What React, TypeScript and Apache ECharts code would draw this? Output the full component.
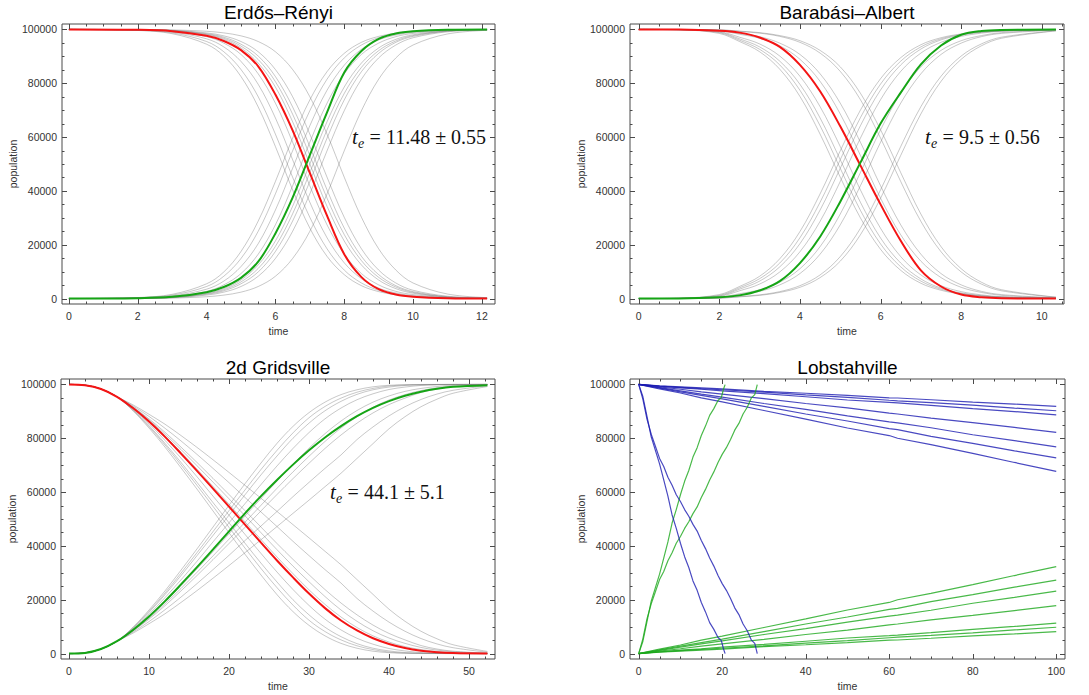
import React, { useEffect, useRef } from "react";
import * as echarts from "echarts";

// ---------------- tick labels ----------------
const populationTicks = [0, 20000, 40000, 60000, 80000, 100000];
const erTimeTicks = [0, 2, 4, 6, 8, 10, 12];
const baTimeTicks = [0, 2, 4, 6, 8, 10];
const gridTimeTicks = [0, 10, 20, 30, 40, 50];
const lobTimeTicks = [0, 20, 40, 60, 80, 100];

// ---------------- Erdős–Rényi ----------------
const erTime = [0, 2, 3, 4, 4.5, 5, 5.5, 6, 6.5, 7, 7.5, 8, 8.5, 9, 9.5, 10, 11, 12.15];
const erRed = [99990, 99850, 99350, 97600, 95700, 92300, 86300, 75800, 62500, 46700, 30800, 16500, 8000, 3500, 1500, 700, 150, 30];
const erGreen = [10, 150, 650, 2400, 4300, 7700, 13700, 24200, 37500, 53300, 69200, 84000, 92000, 96500, 98500, 99300, 99850, 99970];
const erRunS1 = [99970, 99600, 98400, 94500, 90100, 82500, 71200, 56500, 40400, 26200, 15700, 8900, 4800, 2600, 1400, 700, 200, 50];
const erRunS2 = [99970, 99650, 98700, 95500, 91700, 85100, 75000, 61100, 45100, 30200, 18500, 10600, 5800, 3100, 1700, 900, 250, 50];
const erRunS3 = [99980, 99700, 99000, 96500, 93500, 88100, 79600, 67100, 51600, 35800, 22600, 13300, 7400, 3900, 2100, 1100, 300, 50];
const erRunS4 = [99980, 99800, 99200, 97300, 94900, 90700, 83500, 72600, 58100, 41900, 27400, 16500, 9300, 5100, 2700, 1500, 400, 100];
const erRunS5 = [99990, 99850, 99450, 98000, 96300, 93100, 87500, 78600, 65700, 50000, 34300, 21400, 12500, 6900, 3700, 2000, 550, 100];
const erRunS6 = [99990, 99870, 99500, 98200, 96700, 93800, 88800, 80600, 68500, 53200, 37300, 23800, 14100, 7900, 4300, 2300, 600, 100];
const erRunS7 = [99990, 99880, 99600, 98400, 97100, 94500, 90100, 82500, 71200, 56500, 40400, 26200, 15700, 8900, 4800, 2600, 700, 150];
const erRunS8 = [99990, 99900, 99650, 98700, 97600, 95500, 91700, 85100, 75000, 61100, 45100, 30200, 18500, 10600, 5800, 3100, 900, 200];
const erRunS9 = [100000, 99950, 99800, 99300, 98700, 97600, 95500, 91700, 85100, 75000, 61100, 45100, 30200, 18500, 10600, 5800, 1700, 350];
const erRunI1 = [30, 400, 1600, 5500, 9900, 17500, 28800, 43500, 59600, 73800, 84300, 91100, 95200, 97400, 98600, 99300, 99800, 99950];
const erRunI2 = [30, 350, 1300, 4500, 8300, 14900, 25000, 38900, 54900, 69800, 81500, 89400, 94200, 96900, 98300, 99100, 99750, 99950];
const erRunI3 = [20, 300, 1000, 3500, 6500, 11900, 20400, 32900, 48400, 64200, 77400, 86700, 92600, 96100, 97900, 98900, 99700, 99950];
const erRunI4 = [20, 200, 800, 2700, 5100, 9300, 16500, 27400, 41900, 58100, 72600, 83500, 90700, 94900, 97300, 98500, 99600, 99900];
const erRunI5 = [10, 150, 550, 2000, 3700, 6900, 12500, 21400, 34300, 50000, 65700, 78600, 87500, 93100, 96300, 98000, 99450, 99900];
const erRunI6 = [10, 130, 500, 1800, 3300, 6200, 11200, 19400, 31500, 46800, 62700, 76200, 85900, 92100, 95700, 97700, 99400, 99900];
const erRunI7 = [10, 120, 400, 1600, 2900, 5500, 9900, 17500, 28800, 43500, 59600, 73800, 84300, 91100, 95200, 97400, 99300, 99850];
const erRunI8 = [10, 100, 350, 1300, 2400, 4500, 8300, 14900, 25000, 38900, 54900, 69800, 81500, 89400, 94200, 96900, 99100, 99800];
const erRunI9 = [0, 50, 200, 700, 1300, 2400, 4500, 8300, 14900, 25000, 38900, 54900, 69800, 81500, 89400, 94200, 98300, 99650];

// ---------------- Barabási–Albert ----------------
const baTime = [0, 1, 2, 2.5, 3, 3.5, 4, 4.5, 5, 5.5, 6, 6.5, 7, 7.5, 8, 8.5, 9, 10.35];
const baRed = [99990, 99950, 99500, 98800, 97000, 93500, 86800, 77000, 64000, 49500, 35000, 21500, 10500, 4500, 1500, 500, 150, 10];
const baGreen = [10, 50, 500, 1200, 3000, 6500, 13200, 23000, 36000, 50500, 65000, 76500, 87000, 94000, 98000, 99400, 99800, 99990];
const baRunS1 = [99990, 99850, 98500, 95500, 91700, 85200, 75100, 61100, 45100, 30000, 18300, 10500, 5700, 3100, 1700, 900, 500, 100];
const baRunS2 = [99990, 99870, 98800, 96000, 92600, 86800, 77400, 64200, 48400, 32800, 20300, 11800, 6500, 3500, 1900, 1000, 500, 100];
const baRunS3 = [99990, 99880, 99000, 96500, 93500, 88200, 79600, 67100, 51600, 35800, 22500, 13200, 7300, 3900, 2100, 1100, 600, 100];
const baRunS4 = [99990, 99900, 99200, 97100, 94600, 90100, 82600, 71300, 56500, 40400, 26100, 15600, 8800, 4800, 2600, 1400, 700, 100];
const baRunS5 = [99990, 99930, 99500, 98200, 96700, 93900, 88900, 80700, 68600, 53200, 37300, 23700, 13900, 7800, 4200, 2300, 1200, 200];
const baRunS6 = [99990, 99940, 99600, 98500, 97300, 94900, 90700, 83500, 72600, 58100, 41900, 27400, 16500, 9300, 5100, 2700, 1500, 250];
const baRunS7 = [99990, 99960, 99800, 99250, 98600, 97400, 95200, 91200, 84400, 73900, 59600, 43500, 28700, 17400, 9900, 5400, 2900, 500];
const baRunS8 = [99990, 99960, 99850, 99350, 98800, 97700, 95800, 92200, 86100, 76300, 62700, 46800, 31400, 19300, 11100, 6100, 3300, 550];
const baRunI1 = [10, 150, 1500, 4500, 8300, 14800, 24900, 38900, 54900, 70000, 81700, 89500, 94300, 96900, 98300, 99100, 99500, 99900];
const baRunI2 = [10, 130, 1200, 4000, 7400, 13200, 22600, 35800, 51600, 67200, 79700, 88200, 93500, 96500, 98100, 99000, 99500, 99900];
const baRunI3 = [10, 120, 1000, 3500, 6500, 11800, 20400, 32900, 48400, 64200, 77500, 86800, 92700, 96100, 97900, 98900, 99400, 99900];
const baRunI4 = [10, 100, 800, 2900, 5400, 9900, 17400, 28700, 43500, 59600, 73900, 84400, 91200, 95200, 97400, 98600, 99300, 99900];
const baRunI5 = [10, 70, 500, 1800, 3300, 6100, 11100, 19300, 31400, 46800, 62700, 76300, 86100, 92200, 95800, 97700, 98800, 99800];
const baRunI6 = [10, 60, 400, 1500, 2700, 5100, 9300, 16500, 27400, 41900, 58100, 72600, 83500, 90700, 94900, 97300, 98500, 99750];
const baRunI7 = [10, 40, 200, 750, 1400, 2600, 4800, 8800, 15600, 26100, 40400, 56500, 71300, 82600, 90100, 94600, 97100, 99500];
const baRunI8 = [10, 40, 150, 650, 1200, 2300, 4200, 7800, 13900, 23700, 37300, 53200, 68600, 80700, 88900, 93900, 96700, 99450];

// ---------------- 2d Gridsville ----------------
const gvTime = [0, 2, 4, 6, 8, 10, 12, 14, 16, 18, 20, 22, 24, 26, 28, 30, 32, 34, 36, 38, 40, 42, 44, 46, 48, 52.3];
const gvRed = [99990, 99700, 98300, 95400, 91200, 86200, 80500, 74300, 67900, 61300, 54600, 47900, 41200, 34600, 28300, 22300, 16900, 12300, 8600, 5700, 3600, 2100, 1100, 500, 200, 30];
const gvGreen = [10, 250, 1700, 4600, 8800, 13800, 19500, 25700, 32100, 38700, 45400, 52100, 58500, 64500, 70200, 75500, 80300, 84500, 88200, 91300, 93800, 95800, 97300, 98400, 99100, 99700];
const gvRunS1 = [99990, 99700, 98300, 95400, 90200, 83800, 76700, 69000, 61100, 53000, 44900, 36900, 29200, 21900, 15600, 10500, 6600, 3800, 2000, 900, 340, 140, 40, 20, 10, 0];
const gvRunS2 = [99990, 99700, 98300, 95400, 90400, 84300, 77500, 70100, 62500, 54700, 46900, 39200, 31600, 24500, 18000, 12400, 8200, 5100, 2900, 1500, 600, 200, 120, 50, 20, 0];
const gvRunS3 = [99990, 99700, 98300, 95400, 90600, 84700, 78100, 71000, 63600, 56100, 48600, 41000, 33600, 26600, 20000, 14400, 9800, 6300, 3700, 2000, 1000, 400, 160, 60, 30, 5];
const gvRunS4 = [99990, 99700, 98300, 95400, 90900, 85400, 79200, 72600, 65700, 58500, 51400, 44300, 37200, 30300, 23800, 17900, 12800, 8800, 5700, 3500, 1900, 1000, 400, 170, 70, 10];
const gvRunS5 = [99990, 99700, 98300, 95400, 91300, 86400, 80800, 74800, 68500, 62100, 55500, 48900, 42400, 35900, 29700, 23700, 18300, 13600, 9700, 6600, 4300, 2600, 1500, 800, 350, 60];
const gvRunS6 = [99990, 99700, 98300, 95400, 91500, 86800, 81500, 75800, 69800, 63700, 57500, 51200, 44900, 38600, 32500, 26700, 21200, 16200, 12000, 8500, 5800, 3800, 2300, 1300, 700, 80];
const gvRunS7 = [99990, 99700, 98300, 95400, 91600, 87200, 82200, 76700, 71000, 65100, 59100, 53100, 47000, 40900, 35000, 29300, 23800, 18800, 14400, 10600, 7500, 5100, 3000, 1700, 900, 150];
const gvRunS8 = [99990, 99700, 98300, 95400, 92000, 88100, 83700, 79000, 74000, 68800, 63500, 58000, 52600, 47200, 41700, 36400, 31200, 26200, 20500, 15800, 11700, 8300, 5600, 3600, 2200, 500];
const gvRunS9 = [99990, 99700, 98300, 95400, 92400, 88900, 85200, 81000, 76600, 72000, 67300, 62500, 57700, 52800, 47900, 43000, 38000, 33000, 27500, 22000, 16500, 12000, 8300, 5500, 3300, 800];
const gvRunI1 = [10, 300, 1700, 4600, 9800, 16200, 23300, 31000, 38900, 47000, 55100, 63100, 70800, 78100, 84400, 89500, 93400, 96200, 98000, 99100, 99660, 99860, 99960, 99980, 99990, 100000];
const gvRunI2 = [10, 300, 1700, 4600, 9600, 15700, 22500, 29900, 37500, 45300, 53100, 60800, 68400, 75500, 82000, 87600, 91800, 94900, 97100, 98500, 99400, 99800, 99880, 99950, 99980, 100000];
const gvRunI3 = [10, 300, 1700, 4600, 9400, 15300, 21900, 29000, 36400, 43900, 51400, 59000, 66400, 73400, 80000, 85600, 90200, 93700, 96300, 98000, 99000, 99600, 99840, 99940, 99970, 99995];
const gvRunI4 = [10, 300, 1700, 4600, 9100, 14600, 20800, 27400, 34300, 41500, 48600, 55700, 62800, 69700, 76200, 82100, 87200, 91200, 94300, 96500, 98100, 99000, 99600, 99830, 99930, 99990];
const gvRunI5 = [10, 300, 1700, 4600, 8700, 13600, 19200, 25200, 31500, 37900, 44500, 51100, 57600, 64100, 70300, 76300, 81700, 86400, 90300, 93400, 95700, 97400, 98500, 99200, 99650, 99940];
const gvRunI6 = [10, 300, 1700, 4600, 8500, 13200, 18500, 24200, 30200, 36300, 42500, 48800, 55100, 61400, 67500, 73300, 78800, 83800, 88000, 91500, 94200, 96200, 97700, 98700, 99300, 99920];
const gvRunI7 = [10, 300, 1700, 4600, 8400, 12800, 17800, 23300, 29000, 34900, 40900, 46900, 53000, 59100, 65000, 70700, 76200, 81200, 85600, 89400, 92500, 94900, 97000, 98300, 99100, 99850];
const gvRunI8 = [10, 300, 1700, 4600, 8000, 11900, 16300, 21000, 26000, 31200, 36500, 42000, 47400, 52800, 58300, 63600, 68800, 73800, 79500, 84200, 88300, 91700, 94400, 96400, 97800, 99500];
const gvRunI9 = [10, 300, 1700, 4600, 7600, 11100, 14800, 19000, 23400, 28000, 32700, 37500, 42300, 47200, 52100, 57000, 62000, 67000, 72500, 78000, 83500, 88000, 91700, 94500, 96700, 99200];

// ---------------- Lobstahville ----------------
const lbSlowTime = [0, 5, 10, 15, 20, 30, 40, 50, 60, 62, 70, 80, 90, 100];
const lbBlue1 = [99990, 99500, 99100, 98700, 98300, 97400, 96700, 95900, 95000, 94950, 94300, 93400, 92700, 91800];
const lbBlue2 = [99990, 99400, 98900, 98400, 98000, 97100, 96100, 95200, 94100, 93900, 93200, 92300, 91200, 90200];
const lbBlue3 = [99990, 99300, 98700, 98200, 97600, 96600, 95400, 94200, 93300, 93100, 92200, 91000, 89900, 88700];
const lbBlue4 = [99990, 99100, 98200, 97200, 96400, 94700, 92900, 91300, 89300, 89000, 87500, 85800, 84000, 82200];
const lbBlue5 = [99990, 98800, 97600, 96400, 95300, 92900, 90700, 88300, 86100, 85700, 83900, 81300, 79100, 76800];
const lbBlue6 = [99990, 98600, 97200, 95900, 94600, 91800, 89000, 86400, 83600, 83200, 80700, 78100, 75300, 72700];
const lbBlue7 = [99990, 98300, 96800, 95000, 93500, 90300, 87100, 83800, 81000, 80000, 77600, 74400, 71000, 67700];
const lbGreen1 = [10, 500, 900, 1300, 1700, 2600, 3300, 4100, 5000, 5050, 5700, 6600, 7300, 8200];
const lbGreen2 = [10, 600, 1100, 1600, 2000, 2900, 3900, 4800, 5900, 6100, 6800, 7700, 8800, 9800];
const lbGreen3 = [10, 700, 1300, 1800, 2400, 3400, 4600, 5800, 6700, 6900, 7800, 9000, 10100, 11300];
const lbGreen4 = [10, 900, 1800, 2800, 3600, 5300, 7100, 8700, 10700, 11000, 12500, 14200, 16000, 17800];
const lbGreen5 = [10, 1200, 2400, 3600, 4700, 7100, 9300, 11700, 13900, 14300, 16100, 18700, 20900, 23200];
const lbGreen6 = [10, 1400, 2800, 4100, 5400, 8200, 11000, 13600, 16400, 16800, 19300, 21900, 24700, 27300];
const lbGreen7 = [10, 1700, 3200, 5000, 6500, 9700, 12900, 16200, 19000, 20000, 22400, 25600, 29000, 32300];

const lbFastTimeA = [0, 1, 2, 3, 4, 5, 6, 7, 8, 9, 10, 11, 12, 13, 14, 15, 16, 17, 18, 19, 19.8, 20.3, 20.7];
const lbFastBlueA = [99990, 95500, 88000, 80500, 75500, 70500, 64500, 58500, 51500, 46500, 41000, 36000, 32000, 27000, 23500, 19000, 15500, 11500, 9000, 6000, 4800, 1800, 0];
const lbFastGreenA = [10, 4500, 12000, 19500, 24500, 29500, 35500, 41500, 48500, 53500, 59000, 64000, 68000, 73000, 76500, 81000, 84500, 88500, 91000, 94000, 95200, 98200, 99900];
const lbFastTimeB = [0, 1, 2, 3, 4, 5, 6, 7, 8, 9, 10, 11, 12, 13, 14, 15, 16, 17, 18, 19, 20, 21, 22, 23, 24, 25, 26, 27, 27.8, 28.4];
const lbFastBlueB = [99990, 94500, 87000, 81500, 77000, 72500, 69500, 65500, 62500, 59000, 56500, 53500, 51000, 48000, 45500, 42000, 39000, 35500, 32500, 29000, 26000, 23500, 20500, 17000, 14500, 11000, 8500, 5000, 3800, 0];
const lbFastGreenB = [10, 5500, 13000, 18500, 23000, 27500, 30500, 34500, 37500, 41000, 43500, 46500, 49000, 52000, 54500, 58000, 61000, 64500, 67500, 71000, 74000, 76500, 79500, 83000, 85500, 89000, 91500, 95000, 96200, 99900];

// ---------------- styling ----------------
const FRAME = "#4a4a4a";
const LABEL = "#333333";
const GRAY = "rgba(125,125,125,0.42)";
const RED = "#f41414";
const GREEN = "#15a515";
const BLUE = "rgba(28,28,178,0.8)";
const LGREEN = "rgba(28,168,28,0.8)";
const SANS = "'Liberation Sans', Arial, Helvetica, sans-serif";
const SERIF = "'Liberation Serif', 'Times New Roman', serif";
const MAJOR_LEN = 5;
const MINOR_LEN = 2.5;

function pairs(times: number[], values: number[]) {
  return times.map((t, i) => [t, values[i]]);
}

function minors(lo: number, hi: number, step: number, majors: number[]) {
  const out: number[] = [];
  const n0 = Math.ceil(lo / step - 1e-9);
  const n1 = Math.floor(hi / step + 1e-9);
  for (let n = n0; n <= n1; n++) {
    const v = Math.round(n * step * 1000) / 1000;
    if (!majors.some((m) => Math.abs(m - v) < 1e-9)) out.push(v);
  }
  return out;
}

type Panel = {
  title: string;
  grid: { left: number; top: number; width: number; height: number };
  xMin: number;
  xMax: number;
  xMajor: number[];
  xMinorStep: number;
  note?: { value: string; x: number; y: number };
};

const panels: Panel[] = [
  { title: "Erdős–Rényi", grid: { left: 62, top: 24, width: 433, height: 280 }, xMin: -0.2, xMax: 12.38, xMajor: erTimeTicks, xMinorStep: 0.5, note: { value: "= 11.48 ± 0.55", x: 352, y: 137 } },
  { title: "Barabási–Albert", grid: { left: 630, top: 24, width: 434, height: 280 }, xMin: -0.215, xMax: 10.55, xMajor: baTimeTicks, xMinorStep: 0.5, note: { value: "= 9.5 ± 0.56", x: 925, y: 137 } },
  { title: "2d Gridsville", grid: { left: 61, top: 379, width: 434, height: 280 }, xMin: -1.0, xMax: 53.25, xMajor: gridTimeTicks, xMinorStep: 2, note: { value: "= 44.1 ± 5.1", x: 330, y: 492 } },
  { title: "Lobstahville", grid: { left: 630, top: 379, width: 435, height: 280 }, xMin: -2.08, xMax: 102.1, xMajor: lobTimeTicks, xMinorStep: 5 },
];

const Y_MIN = -2000;
const Y_MAX = 102000;
const Y_MINOR_STEP = 5000;

function buildOption() {
  const grids: any[] = [];
  const xAxes: any[] = [];
  const yAxes: any[] = [];
  const series: any[] = [];
  const graphics: any[] = [];

  const yMinor = minors(0, 100000, Y_MINOR_STEP, populationTicks);

  panels.forEach((p, gi) => {
    grids.push({ ...p.grid, containLabel: false, show: true, borderColor: FRAME, borderWidth: 1, backgroundColor: "transparent" });

    xAxes.push({
      gridIndex: gi,
      type: "value",
      position: "bottom",
      min: p.xMin,
      max: p.xMax,
      splitLine: { show: false },
      axisLine: { show: false, onZero: false },
      axisTick: { show: false },
      axisLabel: { show: true, customValues: p.xMajor, color: LABEL, fontSize: 10.5, fontFamily: SANS, margin: 6, formatter: (v: number) => String(v) },
      name: "time",
      nameLocation: "middle",
      nameGap: 21,
      nameTextStyle: { color: LABEL, fontSize: 10.5, fontFamily: SANS },
    });
    yAxes.push({
      gridIndex: gi,
      type: "value",
      position: "left",
      min: Y_MIN,
      max: Y_MAX,
      splitLine: { show: false },
      axisLine: { show: false, onZero: false },
      axisTick: { show: false },
      axisLabel: { show: true, customValues: populationTicks, color: LABEL, fontSize: 10.5, fontFamily: SANS, margin: 5, formatter: (v: number) => String(v) },
      name: "population",
      nameLocation: "middle",
      nameGap: 44,
      nameTextStyle: { color: LABEL, fontSize: 10.5, fontFamily: SANS },
    });

    // frame ticks (inward, on all four sides), positioned through the axes' own scales
    const xMinor = minors(0, p.xMax, p.xMinorStep, p.xMajor);
    const tickData: number[][] = [
      ...p.xMajor.map((v) => [v, 0]),
      ...xMinor.map((v) => [v, 1]),
      ...populationTicks.map((v) => [v, 2]),
      ...yMinor.map((v) => [v, 3]),
    ];
    const xMin = p.xMin;
    const xMax = p.xMax;
    series.push({
      type: "custom",
      xAxisIndex: gi,
      yAxisIndex: gi,
      silent: true,
      clip: false,
      z: 5,
      data: tickData,
      encode: { x: -1, y: -1 },
      renderItem: (params: any, api: any) => {
        const v = api.value(0);
        const kind = api.value(1);
        const len = kind === 0 || kind === 2 ? MAJOR_LEN : MINOR_LEN;
        const st = { stroke: FRAME, lineWidth: 1 };
        if (kind < 2) {
          const pb = api.coord([v, Y_MIN]);
          const pt = api.coord([v, Y_MAX]);
          const x = Math.round(pb[0]) + 0.5;
          return {
            type: "group",
            children: [
              { type: "line", shape: { x1: x, y1: pb[1], x2: x, y2: pb[1] - len }, style: st },
              { type: "line", shape: { x1: x, y1: pt[1], x2: x, y2: pt[1] + len }, style: st },
            ],
          };
        }
        const pl = api.coord([xMin, v]);
        const pr = api.coord([xMax, v]);
        const y = Math.round(pl[1]) + 0.5;
        return {
          type: "group",
          children: [
            { type: "line", shape: { x1: pl[0], y1: y, x2: pl[0] + len, y2: y }, style: st },
            { type: "line", shape: { x1: pr[0], y1: y, x2: pr[0] - len, y2: y }, style: st },
          ],
        };
      },
    });

    graphics.push({
      type: "text",
      x: p.grid.left + p.grid.width / 2,
      y: p.grid.top - 12,
      style: { text: p.title, align: "center", verticalAlign: "middle", fontSize: 19, fontFamily: SANS, fill: "#000" },
    });
    if (p.note) {
      graphics.push({ type: "text", x: p.note.x, y: p.note.y, style: { text: "t", fontStyle: "italic", fontSize: 21, fontFamily: SERIF, fill: "#111", align: "left", verticalAlign: "middle" } });
      graphics.push({ type: "text", x: p.note.x + 6, y: p.note.y + 6, style: { text: "e", fontStyle: "italic", fontSize: 14, fontFamily: SERIF, fill: "#111", align: "left", verticalAlign: "middle" } });
      graphics.push({ type: "text", x: p.note.x + 17.6, y: p.note.y, style: { text: p.note.value, fontSize: 20, fontFamily: SERIF, fill: "#111", align: "left", verticalAlign: "middle" } });
    }
  });

  const addLine = (gi: number, times: number[], values: number[], color: string, width: number, smooth: number | boolean, z: number) => {
    series.push({
      type: "line",
      xAxisIndex: gi,
      yAxisIndex: gi,
      data: pairs(times, values),
      showSymbol: false,
      symbol: "none",
      smooth,
      silent: true,
      z,
      lineStyle: { color, width },
    });
  };

  const erRuns = [erRunS1, erRunS2, erRunS3, erRunS4, erRunS5, erRunS6, erRunS7, erRunS8, erRunS9, erRunI1, erRunI2, erRunI3, erRunI4, erRunI5, erRunI6, erRunI7, erRunI8, erRunI9];
  erRuns.forEach((r) => addLine(0, erTime, r, GRAY, 1, 0.35, 2));
  addLine(0, erTime, erRed, RED, 2, 0.35, 3);
  addLine(0, erTime, erGreen, GREEN, 2, 0.35, 3);

  const baRuns = [baRunS1, baRunS2, baRunS3, baRunS4, baRunS5, baRunS6, baRunS7, baRunS8, baRunI1, baRunI2, baRunI3, baRunI4, baRunI5, baRunI6, baRunI7, baRunI8];
  baRuns.forEach((r) => addLine(1, baTime, r, GRAY, 1, 0.35, 2));
  addLine(1, baTime, baRed, RED, 2, 0.35, 3);
  addLine(1, baTime, baGreen, GREEN, 2, 0.35, 3);

  const gvRuns = [gvRunS1, gvRunS2, gvRunS3, gvRunS4, gvRunS5, gvRunS6, gvRunS7, gvRunS8, gvRunS9, gvRunI1, gvRunI2, gvRunI3, gvRunI4, gvRunI5, gvRunI6, gvRunI7, gvRunI8, gvRunI9];
  gvRuns.forEach((r) => addLine(2, gvTime, r, GRAY, 1, 0.35, 2));
  addLine(2, gvTime, gvRed, RED, 2, 0.35, 3);
  addLine(2, gvTime, gvGreen, GREEN, 2, 0.35, 3);

  [lbGreen1, lbGreen2, lbGreen3, lbGreen4, lbGreen5, lbGreen6, lbGreen7].forEach((r) => addLine(3, lbSlowTime, r, LGREEN, 1.2, false, 2));
  [lbBlue1, lbBlue2, lbBlue3, lbBlue4, lbBlue5, lbBlue6, lbBlue7].forEach((r) => addLine(3, lbSlowTime, r, BLUE, 1.2, false, 2));
  addLine(3, lbFastTimeA, lbFastGreenA, LGREEN, 1.2, false, 2);
  addLine(3, lbFastTimeB, lbFastGreenB, LGREEN, 1.2, false, 2);
  addLine(3, lbFastTimeA, lbFastBlueA, BLUE, 1.2, false, 2);
  addLine(3, lbFastTimeB, lbFastBlueB, BLUE, 1.2, false, 2);

  return {
    animation: false,
    backgroundColor: "#ffffff",
    grid: grids,
    xAxis: xAxes,
    yAxis: yAxes,
    series,
    graphic: graphics,
  };
}

export default function App() {
  const ref = useRef<HTMLDivElement>(null);
  useEffect(() => {
    if (!ref.current) return;
    const chart = echarts.init(ref.current, undefined, { renderer: "svg" });
    chart.setOption(buildOption() as any);
    return () => chart.dispose();
  }, []);
  return (
    <div
      ref={ref}
      style={{ position: "absolute", left: 0, top: 0, width: 1089, height: 695, background: "#fff" }}
    />
  );
}
